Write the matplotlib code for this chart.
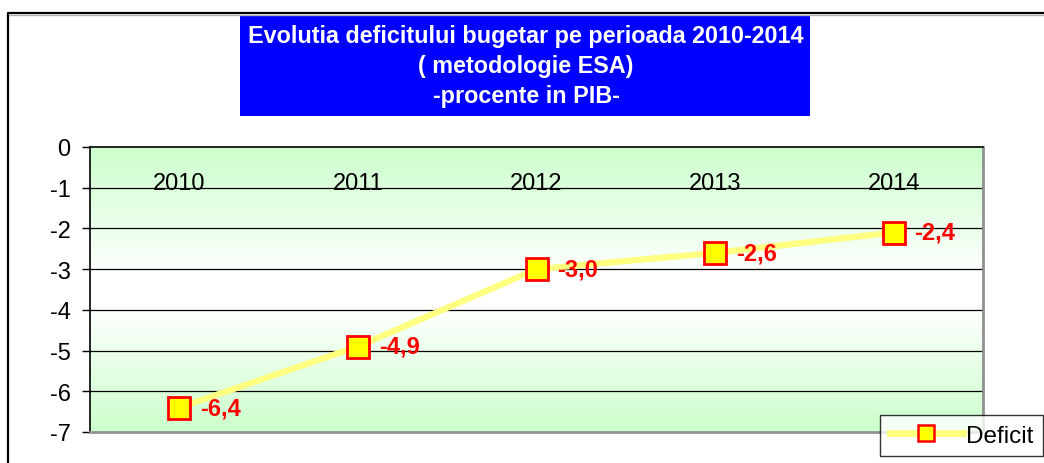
import matplotlib
matplotlib.use("Agg")
import matplotlib.pyplot as plt
import numpy as np
from matplotlib.patches import Rectangle
from matplotlib.lines import Line2D
from matplotlib.colors import LinearSegmentedColormap

years = ["2010", "2011", "2012", "2013", "2014"]
deficit = [-6.4, -4.9, -3.0, -2.6, -2.1]
value_labels = ["-6,4", "-4,9", "-3,0", "-2,6", "-2,4"]
yticks = [0, -1, -2, -3, -4, -5, -6, -7]
title_lines = ["Evolutia deficitului bugetar pe perioada 2010-2014",
               "( metodologie ESA)",
               "-procente in PIB-"]

plt.rcParams['font.family'] = ['Liberation Sans', 'DejaVu Sans']

W, H = 1044, 464
fig = plt.figure(figsize=(W / 100, H / 100), dpi=100)

def fx(px):
    return px / W

def fy(py):
    return 1 - py / H

# outer frame (partial, cropped chart area)
fig.add_artist(Line2D([fx(8), fx(8), 1.0], [0.0, fy(14), fy(14)],
                      transform=fig.transFigure, color='black', lw=1.6))
fig.add_artist(Line2D([fx(9), 1.0], [fy(15.5), fy(15.5)],
                      transform=fig.transFigure, color='#b0b0b0', lw=1.0))

# title box
fig.add_artist(Rectangle((fx(240), fy(117)), fx(810) - fx(240), fy(16) - fy(117),
                         transform=fig.transFigure, facecolor='#0000ff',
                         edgecolor='none'))
for i, t in enumerate(title_lines):
    fig.text(fx(526), fy(37 + 30 * i), t, ha='center', va='center',
             color='white', fontsize=16.8, fontweight='bold')

ax = fig.add_axes([fx(90), fy(433), fx(983) - fx(90), fy(148) - fy(433)])

# background gradient: green at edges, white in the middle
cmap = LinearSegmentedColormap.from_list(
    "g", [(0.0, '#ccffcc'), (0.45, '#ffffff'), (0.55, '#ffffff'), (1.0, '#ccffcc')])
grad = np.linspace(0, 1, 256).reshape(-1, 1)
ax.imshow(grad, aspect='auto', cmap=cmap, extent=[0, 1, 0, 1],
          transform=ax.transAxes, zorder=0, interpolation='bicubic')

x = np.arange(len(years))
ax.set_xlim(-0.5, len(years) - 0.5)
ax.set_ylim(-7, 0)

for yv in yticks[1:-1]:
    ax.axhline(yv, color='black', lw=0.9, zorder=1)

ax.plot(x, deficit, color='#ffff80', lw=4.5, zorder=3, solid_capstyle='butt')
ax.plot(x, deficit, linestyle='none', marker='s', markersize=16,
        markerfacecolor='#ffff00', markeredgecolor='#ff0000',
        markeredgewidth=2, zorder=4)

for xi, yv, lab in zip(x, deficit, value_labels):
    ax.annotate(lab, (xi, yv), xytext=(15, 0), textcoords='offset points',
                ha='left', va='center', color='#ff0000', fontsize=17,
                fontweight='bold', zorder=5)

# category labels near the top
for xi, yr in zip(x, years):
    ax.text(xi, -1.02, yr, ha='center', va='baseline', fontsize=17,
            color='black', zorder=2)

ax.set_xticks([])
ax.set_yticks(yticks)
ax.set_yticklabels([str(v) for v in yticks], fontsize=17)
ax.tick_params(axis='y', direction='out', length=6, width=1, pad=8)

ax.spines['left'].set_color('black')
ax.spines['left'].set_linewidth(1.2)
ax.spines['top'].set_color('black')
ax.spines['top'].set_linewidth(1.2)
ax.spines['bottom'].set_color('#909090')
ax.spines['bottom'].set_linewidth(2)
ax.spines['right'].set_color('#909090')
ax.spines['right'].set_linewidth(2)

handle = Line2D([], [], color='#ffff80', lw=5, marker='s', markersize=12,
                markerfacecolor='#ffff00', markeredgecolor='#ff0000',
                markeredgewidth=1.8)
leg = fig.legend([handle], ['Deficit'], loc='upper left',
                 bbox_to_anchor=(fx(880), fy(416)), fontsize=17.5,
                 frameon=True, fancybox=False, handlelength=3.0,
                 borderpad=0.4, handletextpad=0.15, borderaxespad=0)
leg.get_frame().set_edgecolor('black')
leg.get_frame().set_linewidth(1.0)

fig.savefig("out.png", dpi=100)
